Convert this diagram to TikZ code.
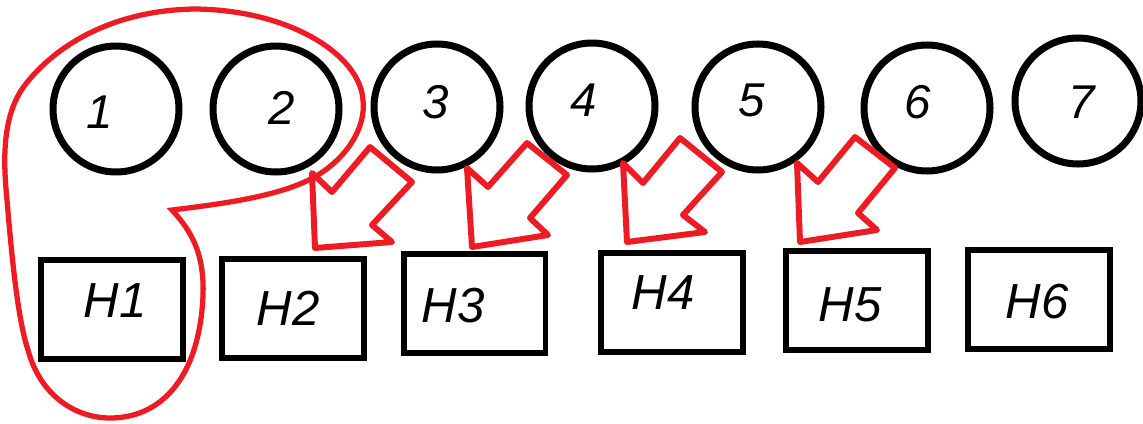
\documentclass[tikz,border=0pt]{standalone}
\usepackage{fontspec}
\setmainfont{Liberation Sans}
\definecolor{pred}{HTML}{ED1C24}
\begin{document}
\begin{tikzpicture}[x=0.02cm,y=-0.02cm,
  ball/.style={circle,draw=black,line width=4pt,minimum size=2.52cm,inner sep=0pt},
  hbox/.style={rectangle,draw=black,line width=3.4pt,minimum width=2.84cm,minimum height=1.98cm,inner sep=0pt},
  lbl/.style={font=\itshape\fontsize{27}{27}\selectfont,inner sep=0pt},
  hlbl/.style={font=\itshape\fontsize{28}{28}\selectfont,inner sep=0pt},
  fat/.style={draw=pred,line width=3.4pt,line join=round},
  lasso/.style={draw=pred,line width=3pt}]
\useasboundingbox (0,0) rectangle (1143,423);
% circles
\node[ball] (c1) at (116,109) {};
\node[ball] (c2) at (276,109) {};
\node[ball] (c3) at (437,107) {};
\node[ball] (c4) at (592,106) {};
\node[ball] (c5) at (758,107) {};
\node[ball] (c6) at (927,108) {};
\node[ball] (c7) at (1078,101) {};
\node[lbl] (t1) at (100,112) {1};
\node[lbl] (t2) at (282,108) {2};
\node[lbl] (t3) at (436,102) {3};
\node[lbl] (t4) at (584,100) {4};
\node[lbl] (t5) at (752,100) {5};
\node[lbl] (t6) at (918,102) {6};
\node[lbl] (t7) at (1082,102) {7};
% boxes
\node[hbox] (h1) at (112,309.5) {};
\node[hbox] (h2) at (293,308.5) {};
\node[hbox] (h3) at (474.5,303.5) {};
\node[hbox] (h4) at (672,302.5) {};
\node[hbox] (h5) at (857,300.5) {};
\node[hbox] (h6) at (1039,299.5) {};
\node[hlbl] (l1) at (115,301) {H1};
\node[hlbl] (l2) at (288,308) {H2};
\node[hlbl] (l3) at (453,306) {H3};
\node[hlbl] (l4) at (663,293) {H4};
\node[hlbl] (l5) at (850,305) {H5};
\node[hlbl] (l6) at (1037,302) {H6};
% lasso around 1, 2 and H1
\path[lasso] (172,210) .. controls (230,203) and (285,195) .. (318,175)
  .. controls (350,155) and (366,125) .. (363,100)
  .. controls (360,55) and (290,10) .. (195,9)
  .. controls (120,10) and (60,40) .. (25,85)
  .. controls (2,115) and (3,160) .. (7,200)
  .. controls (12,260) and (18,320) .. (28,350)
  .. controls (40,395) and (75,418) .. (110,418)
  .. controls (160,418) and (195,380) .. (202,310)
  .. controls (207,260) and (195,235) .. (172,210) -- cycle;
% fat arrows
\path[fat] (315,248) -- (312,173) -- (332,192) -- (370,147) -- (412,182) -- (372,225) -- (392,242) -- cycle;
\path[fat] (472,247) -- (467,168) -- (488,187) -- (527,143) -- (567,175) -- (530,218) -- (548,235) -- cycle;
\path[fat] (627,242) -- (623,163) -- (643,183) -- (680,138) -- (722,172) -- (683,215) -- (705,232) -- cycle;
\path[fat] (800,242) -- (797,163) -- (818,182) -- (855,137) -- (895,168) -- (858,213) -- (877,230) -- cycle;
\end{tikzpicture}
\end{document}
